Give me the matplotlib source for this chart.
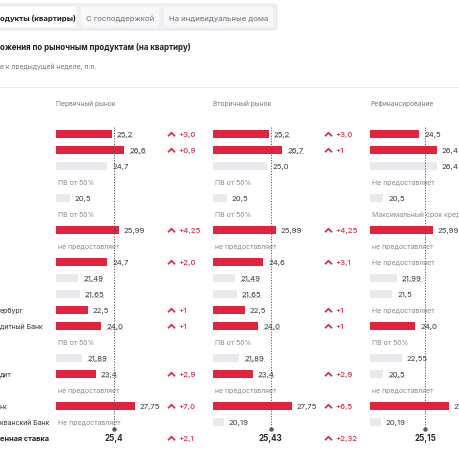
import matplotlib
matplotlib.use('Agg')
import matplotlib.pyplot as plt
from matplotlib.patches import FancyBboxPatch
from matplotlib.path import Path
from matplotlib.lines import Line2D
from matplotlib.transforms import blended_transform_factory, IdentityTransform

plt.rcParams['font.family'] = ['Inter', 'DejaVu Sans']

# ---------------- data ----------------
tabs = ['одукты (квартиры)', 'С господдержкой', 'На индивидуальные дома']
title = 'ожения по рыночным продуктам (на квартиру)'
subtitle = 'е к предыдущей неделе, п.п.'
columns = ['Первичный рынок', 'Вторичный рынок', 'Рефинансирование']
row_labels = {11: 'ербург', 12: 'дитный Банк', 15: 'дит', 17: 'нк', 18: 'кванский Банк'}
avg_label = 'енная ставка'

primary_cells = ['25,2', '26,6', '24,7', 'ПВ от 50%', '20,5', 'ПВ от 50%', '25,99', 'не предоставляет',
                 '24,7', '21,49', '21,65', '22,5', '24,0', 'ПВ от 50%', '21,89', '23,4',
                 'не предоставляет', '27,75', 'Не предоставляет']
primary_red = [1, 1, 0, 0, 0, 0, 1, 0, 1, 0, 0, 1, 1, 0, 0, 1, 0, 1, 0]
primary_delta = ['+3,0', '+0,9', '', '', '', '', '+4,25', '', '+2,0', '', '', '+1', '+1', '', '',
                 '+2,9', '', '+7,0', '']
primary_underline = [0, 1, 9, 10, 12, 14, 15]

secondary_cells = ['25,2', '26,7', '25,0', 'ПВ от 50%', '20,5', 'ПВ от 50%', '25,99', 'не предоставляет',
                   '24,6', '21,49', '21,65', '22,5', '24,0', 'ПВ от 50%', '21,89', '23,4',
                   'не предоставляет', '27,75', '20,19']
secondary_red = [1, 1, 0, 0, 0, 0, 1, 0, 1, 0, 0, 1, 1, 0, 0, 1, 0, 1, 0]
secondary_delta = ['+3,0', '+1', '', '', '', '', '+4,25', '', '+3,1', '', '', '+1', '+1', '', '',
                   '+2,9', '', '+6,5', '']
secondary_underline = [0, 1, 9, 10, 12, 14, 15]

refin_cells = ['24,5', '26,4', '26,4', 'Не предоставляет', '20,5', 'Максимальный срок кредита', '25,99',
               'не предоставляет', 'Не предоставляет', '21,99', '21,5', 'Не предоставляет', '24,0',
               'ПВ от 50%', '22,55', '20,5', 'не предоставляет', '27,75', '20,19']
refin_red = [1, 1, 0, 0, 0, 0, 1, 0, 0, 0, 0, 0, 1, 0, 0, 0, 0, 1, 0]
refin_delta = [''] * 19
refin_underline = [9, 15]

averages = ['25,4', '25,43', '25,15']
avg_deltas = ['+2,1', '+2,32', '']

# ---------------- style ----------------
RED = '#E0243F'
GREY_BAR = '#E8EAED'
DELTA_RED = '#D3304C'
VAL_COLOR = '#3A3A3A'
NOTE_COLOR = '#8C8C8C'
HEAD_COLOR = '#7A7A7A'

W = H = 460
fig = plt.figure(figsize=(4.6, 4.6), dpi=100)
fig.patch.set_facecolor('white')

# background axes in pixel space for page chrome
bg = fig.add_axes([0, 0, 1, 1])
bg.set_xlim(0, W)
bg.set_ylim(H, 0)
bg.axis('off')

bg.add_patch(FancyBboxPatch((-20, 5), 297, 26, boxstyle='round,pad=0,rounding_size=4',
                            fc='#F1F2F4', ec='#E4E6E9', lw=0.8))
bg.add_patch(FancyBboxPatch((-20, 7), 97, 22, boxstyle='round,pad=0,rounding_size=3',
                            fc='white', ec='#E6E8EB', lw=0.6))
bg.add_patch(FancyBboxPatch((80, 7), 80, 22, boxstyle='round,pad=0,rounding_size=3',
                            fc='#F7F8F9', ec='#E6E8EB', lw=0.6))
bg.add_patch(FancyBboxPatch((163, 7), 111, 22, boxstyle='round,pad=0,rounding_size=3',
                            fc='#F7F8F9', ec='#E6E8EB', lw=0.6))
bg.text(0, 18.5, tabs[0], fontsize=5.6, fontweight='bold', color='#222222', ha='left', va='center')
bg.text(120, 18.5, tabs[1], fontsize=5.6, color='#6E6E6E', ha='center', va='center')
bg.text(218.5, 18.5, tabs[2], fontsize=5.6, color='#6E6E6E', ha='center', va='center')

bg.text(0, 47, title, fontsize=5.7, fontweight='bold', color='#222222', ha='left', va='center')
bg.text(0, 67, subtitle, fontsize=4.9, color='#777777', ha='left', va='center')
bg.axhline(88, color='#EDEDED', lw=0.8)

col_x0 = [56, 213, 370]
col_w = 145
px_per_unit = 9.0
xmin = 19.0
row_top, row_bottom = 127, 447  # pixel span for rows -0.5 .. 19.5

col_data = [
    (primary_cells, primary_red, primary_delta, primary_underline),
    (secondary_cells, secondary_red, secondary_delta, secondary_underline),
    (refin_cells, refin_red, refin_delta, refin_underline),
]

chevron = Path([(-1, -0.5), (0, 0.5), (1, -0.5)], [Path.MOVETO, Path.LINETO, Path.LINETO])

underline_texts = []
axes = []
for ci, (cells, reds, deltas, underl) in enumerate(col_data):
    x0 = col_x0[ci]
    ax = fig.add_axes([x0 / W, (H - row_bottom) / H, col_w / W, (row_bottom - row_top) / H])
    ax.set_xlim(xmin, xmin + col_w / px_per_unit)
    ax.set_ylim(19.5, -0.5)
    ax.axis('off')
    ax.patch.set_alpha(0)
    axes.append(ax)

    # column header
    ax.text(0, 104, columns[ci], transform=blended_transform_factory(ax.transAxes, bg.transData),
            fontsize=4.8, color=HEAD_COLOR, ha='left', va='center')

    avg_val = float(averages[ci].replace(',', '.'))
    # dotted average line
    ax.plot([avg_val, avg_val], [-0.45, 18.45], color='#5A5A5A', lw=0.7, ls=(0, (1.2, 1.6)), zorder=4)
    ax.plot([avg_val], [18.45], marker='o', ms=2.2, color='#5A5A5A', zorder=4)

    for r, cell in enumerate(cells):
        try:
            v = float(cell.replace(',', '.'))
        except ValueError:
            v = None
        if v is not None:
            ax.barh(r, v - xmin, left=xmin, height=0.55, color=RED if reds[r] else GREY_BAR,
                    zorder=2)
            t = ax.text(v + 0.55, r, cell, fontsize=5.6, color=VAL_COLOR, ha='left', va='center',
                        zorder=5)
            if r in underl:
                underline_texts.append(t)
        else:
            ax.text(xmin + 0.25, r, cell, fontsize=5.0, color=NOTE_COLOR, ha='left', va='center',
                    zorder=3)
        if deltas[r]:
            ax.plot([xmin + 115 / px_per_unit], [r], marker=chevron, ms=5, mew=1.3, color=DELTA_RED,
                    fillstyle='none', ls='none')
            ax.text(xmin + 122 / px_per_unit, r - 0.02, deltas[r], fontsize=5.6, color=DELTA_RED,
                    ha='left', va='center', fontweight='medium')

    # average row
    ax.text(avg_val, 19, averages[ci], fontsize=5.8, fontweight='bold', color='#2A2A2A',
            ha='center', va='center')
    if avg_deltas[ci]:
        ax.plot([xmin + 115 / px_per_unit], [19], marker=chevron, ms=5, mew=1.3, color=DELTA_RED,
                fillstyle='none', ls='none')
        ax.text(xmin + 122 / px_per_unit, 18.98, avg_deltas[ci], fontsize=5.6, color=DELTA_RED,
                ha='left', va='center', fontweight='medium')

# left labels
lab_tr = blended_transform_factory(bg.transData, axes[0].transData)
for r, lab in row_labels.items():
    axes[0].text(0, r, lab, transform=lab_tr, fontsize=5.0, color='#333333', ha='left', va='center')
axes[0].text(0, 19, avg_label, transform=lab_tr, fontsize=5.3, fontweight='bold', color='#222222',
             ha='left', va='center')

# dotted underlines for values with tooltips
fig.canvas.draw()
for t in underline_texts:
    bb = t.get_window_extent()
    y = bb.y0 + 0.3
    fig.add_artist(Line2D([bb.x0, bb.x1], [y, y], transform=IdentityTransform(),
                          color='#8A8A8A', lw=0.6, ls=(0, (1.3, 1.3))))

fig.savefig('out.png', dpi=100, facecolor='white')
